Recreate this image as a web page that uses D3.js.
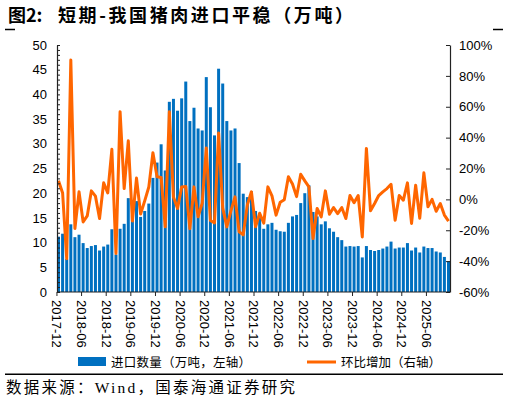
<!DOCTYPE html>
<html>
<head>
<meta charset="utf-8">
<script src="https://cdn.jsdelivr.net/npm/d3@7"></script>
<style>
  body { margin: 0; background: #fff; }
  svg { display: block; }
</style>
</head>
<body>
<svg width="509" height="400"></svg>
<script>
// 进口数量（万吨），2017-12 起按月
const importVol = [
  11.2, 11.8, 6.7, 13.7, 11.1, 11.6, 9.9, 8.9, 9.3, 9.5, 8.4, 9.2,
  9.6, 12.7, 7.6, 12.8, 13.8, 19.0, 15.5, 18.4, 15.2, 16.4, 17.9, 23.1,
  26.2, 29.9, 24.6, 38.5, 39.1, 36.7, 39.2, 42.6, 34.6, 37.3, 33.1, 32.7,
  43.5, 37.4, 31.7, 45.2, 42.2, 34.6, 32.7, 33.1, 26.1, 19.9, 19.2, 20.4,
  16.4, 15.0, 12.8, 13.7, 14.0, 12.6, 12.3, 12.2, 14.0, 15.3, 15.6, 18.0,
  20.0, 21.6, 16.2, 15.3, 13.7, 14.3, 12.9, 12.2, 11.1, 10.5, 9.2, 9.3,
  9.2, 9.3, 7.0, 9.3, 8.5, 8.3, 8.5, 8.8, 9.2, 10.2, 8.8, 9.0,
  9.0, 9.9, 8.4, 9.0, 8.0, 9.2, 8.9, 8.9, 8.2, 8.0, 7.1, 6.2
];
// 环比增加（%）
const momChange = [
  12.0, 4.2, -38.4, 90.3, -18.9, 4.9, -14.6, -10.7, 5.5, 2.1, -12.4, 10.7,
  4.2, 32.4, -35.1, 56.8, 7.0, 37.9, -14.0, 13.8, -9.5, -1.0, 8.0, 30.2,
  14.6, 14.2, -17.8, 56.7, 1.6, -5.9, 8.1, 8.4, -19.0, 8.1, -11.3, -2.5,
  33.3, -13.7, -15.2, 43.0, -5.5, -17.8, -7.5, 1.6, -21.0, -23.0, -3.5, 4.9,
  -17.8, -9.0, -15.4, 8.1, 2.3, -10.2, -1.9, -0.3, 14.6, 9.9, 1.8, 16.3,
  12.0, 8.1, -25.4, -5.9, -11.3, 5.5, -9.6, -5.3, -9.2, -5.3, -12.4, 2.5,
  -2.2, 2.5, -24.3, 33.0, -7.4, -2.7, 2.5, 4.9, 7.0, 9.8, -13.5, 2.5,
  -0.5, 10.7, -15.6, 9.2, -12.2, 17.2, -4.8, 0.0, -7.7, -2.7, -10.2, -14.1
];
const fmtMonth = d3.timeFormat("%Y-%m");
const months = importVol.map((d, i) => fmtMonth(d3.timeMonth.offset(new Date(2017, 11, 1), i)));
const xTickLabels = [
  "2017-12", "2018-06", "2018-12", "2019-06", "2019-12", "2020-06", "2020-12", "2021-06",
  "2021-12", "2022-06", "2022-12", "2023-06", "2023-12", "2024-06", "2024-12", "2025-06"
];
const leftTicks = [0, 5, 10, 15, 20, 25, 30, 35, 40, 45, 50];
const rightTicks = [-60, -40, -20, 0, 20, 40, 60, 80, 100];

const svg = d3.select("svg");
const blue = "#0070c0";
const orange = "#ff6600";
const plot = { left: 57, right: 450, top: 45, bottom: 292 };

const x = d3.scaleBand().domain(months).range([plot.left, plot.right])
  .paddingInner(0.27).paddingOuter(0);
const yL = d3.scaleLinear().domain([0, 50]).range([plot.bottom, plot.top]);
const yR = d3.scaleLinear().domain([-60, 100]).range([plot.bottom, plot.top]);

// title + corner marks
svg.append("text").attr("x", 8).attr("y", 21.5)
  .style("font", "bold 18px 'Noto Sans CJK SC'").text("图2:");
svg.append("text").attr("x", 58).attr("y", 21.5)
  .attr("textLength", 295).attr("lengthAdjust", "spacing")
  .style("font", "bold 18px 'Noto Sans CJK SC'").text("短期-我国猪肉进口平稳（万吨）");
svg.append("line").attr("x1", 5).attr("x2", 15).attr("y1", 29.5).attr("y2", 29.5)
  .attr("stroke", "#000").attr("stroke-width", 1.5);
svg.append("line").attr("x1", 493).attr("x2", 503).attr("y1", 29.5).attr("y2", 29.5)
  .attr("stroke", "#000").attr("stroke-width", 1.5);

// bars
svg.append("g").selectAll("rect")
  .data(importVol)
  .join("rect")
  .attr("x", (d, i) => x(months[i]))
  .attr("width", x.bandwidth())
  .attr("y", d => yL(d))
  .attr("height", d => yL(0) - yL(d))
  .attr("fill", blue);

// line
const line = d3.line()
  .x((d, i) => x(months[i]) + x.bandwidth() / 2)
  .y(d => yR(d));
svg.append("path").datum(momChange)
  .attr("d", line)
  .attr("fill", "none")
  .attr("stroke", orange)
  .attr("stroke-width", 3)
  .attr("stroke-linejoin", "round");

// left axis (minor ticks every 1)
const axL = svg.append("g").attr("transform", `translate(${plot.left},0)`)
  .call(d3.axisLeft(yL).tickValues(d3.range(0, 51, 1))
    .tickSizeInner(-3).tickSizeOuter(0).tickPadding(10)
    .tickFormat(d => leftTicks.includes(d) ? d : ""));

// right axis
const axR = svg.append("g").attr("transform", `translate(${plot.right},0)`)
  .call(d3.axisRight(yR).tickValues(rightTicks)
    .tickSizeInner(-4).tickSizeOuter(0).tickPadding(9)
    .tickFormat(d => d + "%"));

[axL, axR].forEach(g => {
  g.select(".domain").attr("stroke", "#222").attr("stroke-width", 1.2);
  g.selectAll(".tick line").attr("stroke", "#222");
  g.selectAll("text").style("font", "13px 'Liberation Sans'").attr("fill", "#000");
});

// bottom axis, ticks at the start of each labelled month
const xAxis = svg.append("g");
xAxis.append("line")
  .attr("x1", plot.left).attr("x2", plot.right)
  .attr("y1", plot.bottom).attr("y2", plot.bottom)
  .attr("stroke", "#222").attr("stroke-width", 1.2);
const xt = xAxis.selectAll(".xt").data(xTickLabels).join("g")
  .attr("class", "xt")
  .attr("transform", d => `translate(${x(d) - x.step() * x.paddingInner() / 2 + 0.5},${plot.bottom})`);
xt.append("line").attr("y2", 4).attr("stroke", "#222");
xt.append("text")
  .attr("transform", "translate(0,8) rotate(90)")
  .attr("dy", "0.35em")
  .style("font", "13px 'Liberation Sans'")
  .text(d => d);

// legend
svg.append("rect").attr("x", 78).attr("y", 357).attr("width", 28).attr("height", 9).attr("fill", blue);
svg.append("text").attr("x", 111).attr("y", 366.5)
  .attr("textLength", 140).attr("lengthAdjust", "spacing")
  .style("font", "12.5px 'Noto Sans CJK SC'").text("进口数量（万吨，左轴）");
svg.append("line").attr("x1", 307).attr("x2", 336).attr("y1", 362).attr("y2", 362)
  .attr("stroke", orange).attr("stroke-width", 3);
svg.append("text").attr("x", 341).attr("y", 366.5)
  .attr("textLength", 100).attr("lengthAdjust", "spacing")
  .style("font", "12.5px 'Noto Sans CJK SC'").text("环比增加（右轴）");

// footer
svg.append("line").attr("x1", 5).attr("x2", 503).attr("y1", 374.3).attr("y2", 374.3)
  .attr("stroke", "#000").attr("stroke-width", 1.6);
svg.append("text").attr("x", 6).attr("y", 392.5)
  .attr("textLength", 289).attr("lengthAdjust", "spacing")
  .style("font", "15.5px 'Liberation Serif', 'Noto Sans CJK SC'").text("数据来源：Wind，国泰海通证券研究");
</script>
</body>
</html>
